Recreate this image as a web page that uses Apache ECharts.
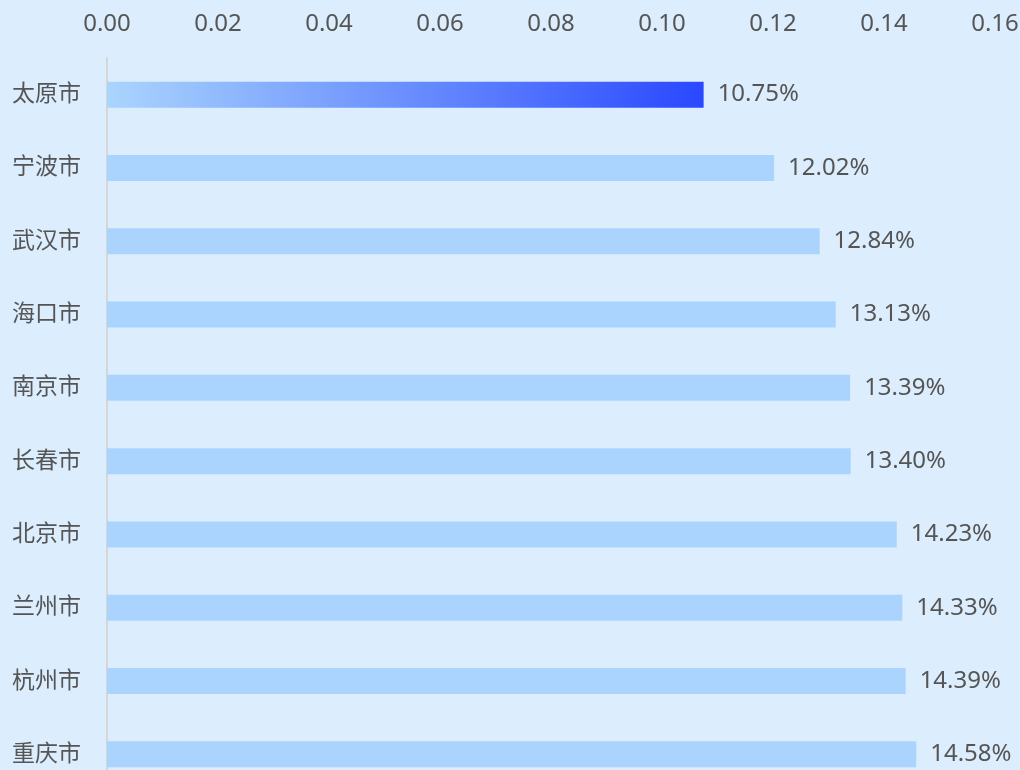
<!DOCTYPE html>
<html><head><meta charset="utf-8">
<script src="https://cdn.jsdelivr.net/npm/echarts@6/dist/echarts.min.js"></script>
<style>html,body{margin:0;padding:0;background:#dcedfd;}#c{width:1020px;height:770px;}</style>
</head><body><div id="c"></div>
<script>
const cities = ['太原市','宁波市','武汉市','海口市','南京市','长春市','北京市','兰州市','杭州市','重庆市'];
const values = [0.1075,0.1202,0.1284,0.1313,0.1339,0.1340,0.1423,0.1433,0.1439,0.1458];
const xTicks = [0, 0.16, 0.02];

const chart = echarts.init(document.getElementById('c'));
const font = '"Noto Sans","Noto Sans CJK SC",sans-serif';
chart.setOption({
  backgroundColor: '#dcedfd',
  animation: false,
  grid: {left: 107, right: 25, top: 58, height: 733, containLabel: false, outerBoundsMode: 'none'},
  xAxis: {
    type: 'value', position: 'top', min: xTicks[0], max: xTicks[1], interval: xTicks[2],
    axisLine: {show: false}, axisTick: {show: false}, splitLine: {show: false},
    axisLabel: {color: '#555', fontSize: 24, fontFamily: font, margin: 22,
      formatter: v => v.toFixed(2)}
  },
  yAxis: {
    type: 'category', data: cities, inverse: true,
    axisLine: {show: true, lineStyle: {color: '#d6d6d6', width: 2}},
    axisTick: {show: false},
    axisLabel: {color: '#555', fontSize: 23, fontFamily: font, margin: 26}
  },
  series: [{
    type: 'bar', barWidth: 26,
    data: values.map((v, i) => i === 0 ? {
      value: v,
      itemStyle: {color: new echarts.graphic.LinearGradient(0, 0, 1, 0, [
        {offset: 0, color: '#aad5fd'}, {offset: 1, color: '#2a48ff'}])}
    } : v),
    itemStyle: {color: '#aad4fd'},
    label: {show: true, position: 'right', distance: 14, color: '#555', fontSize: 24, fontFamily: font,
      formatter: p => (p.value * 100).toFixed(2) + '%'}
  }]
});
</script></body></html>
